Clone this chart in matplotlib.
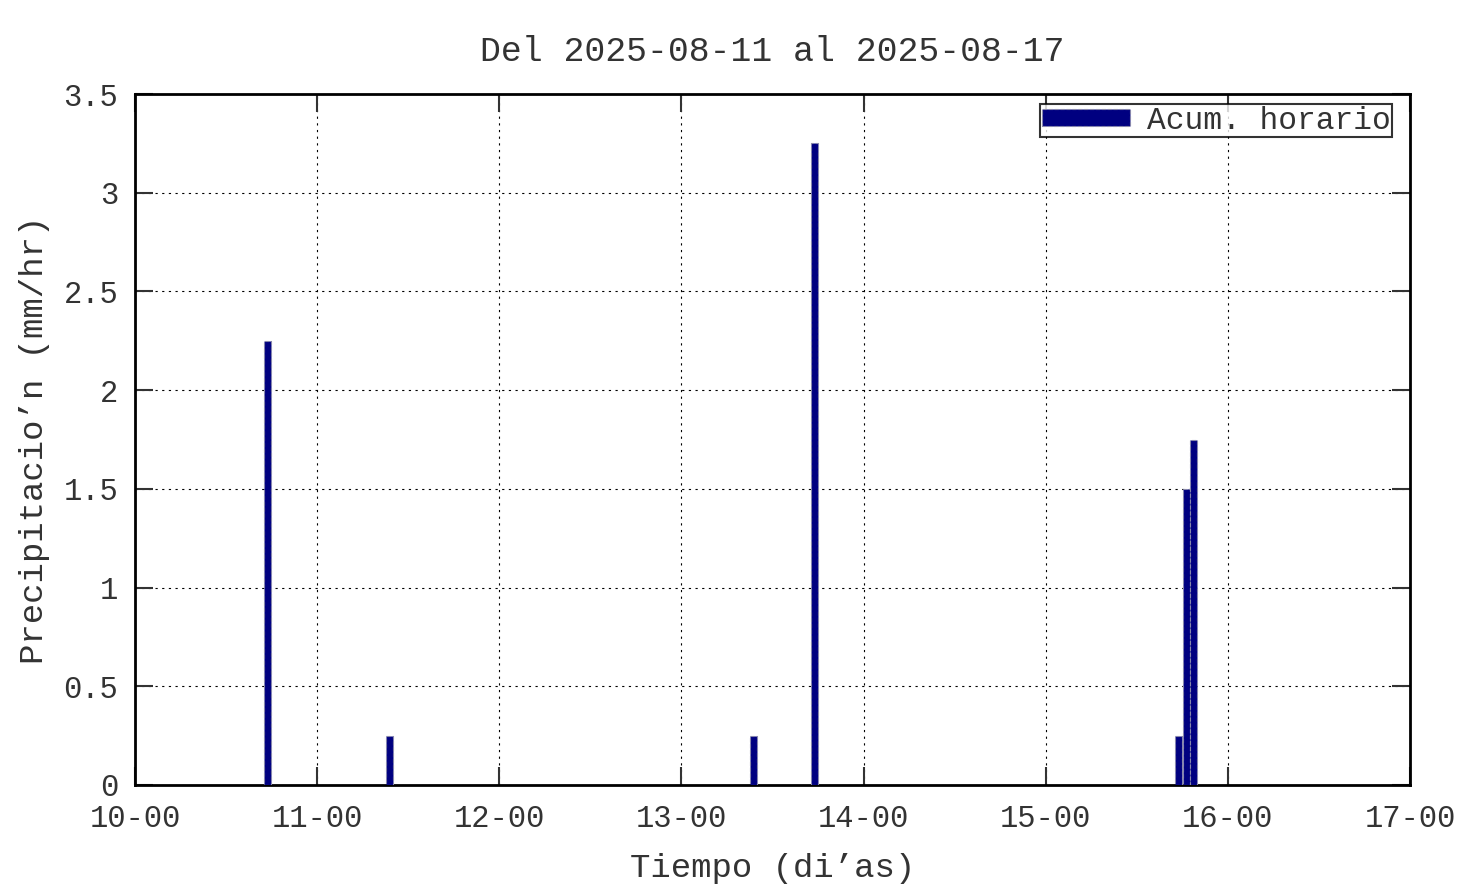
import matplotlib
matplotlib.use("Agg")
import matplotlib.pyplot as plt
import matplotlib.dates as mdates
import pandas as pd

# hourly accumulated precipitation (start of each hour)
horas = ["2025-08-10 17:00", "2025-08-11 09:00", "2025-08-13 09:00",
         "2025-08-13 17:00", "2025-08-15 17:00", "2025-08-15 18:00",
         "2025-08-15 19:00"]
precip = [2.25, 0.25, 0.25, 3.25, 0.25, 1.5, 1.75]
yticks = [0, 0.5, 1, 1.5, 2, 2.5, 3, 3.5]
ytick_labels = ["0", "0.5", "1", "1.5", "2", "2.5", "3", "3.5"]

plt.rcParams['font.family'] = ['Liberation Mono', 'DejaVu Sans Mono']

t = pd.to_datetime(horas) + pd.Timedelta(minutes=30)
x = mdates.date2num(t)

fig = plt.figure(figsize=(14.76, 8.85), dpi=100)
ax = fig.add_axes([135/1476, 1 - 785/885, 1275/1476, 691/885])

ax.bar(x, precip, width=0.9/24, color='#000080', edgecolor='#8888aa',
       linewidth=0.8, linestyle='--', label='Acum. horario', zorder=3)

ax.set_xlim(mdates.date2num(pd.Timestamp("2025-08-10")),
            mdates.date2num(pd.Timestamp("2025-08-17")))
ax.set_ylim(0, 3.5)
ax.xaxis.set_major_locator(mdates.DayLocator())
ax.xaxis.set_major_formatter(mdates.DateFormatter('%d-%H'))
ax.set_yticks(yticks)
ax.set_yticklabels(ytick_labels)

txt = '#333333'
ax.grid(True, color='black', linestyle=(0, (2, 4)), linewidth=0.8)
ax.tick_params(direction='in', length=13, width=1.5, top=True, right=True,
               labelsize=22, colors=txt)
ax.tick_params(axis='x', pad=14)
ax.tick_params(axis='y', pad=12)
for s in ax.spines.values():
    s.set_linewidth(2)

ax.set_title('Del 2025-08-11 al 2025-08-17', fontsize=25, pad=24, color=txt)
ax.set_xlabel('Tiempo (di\u2019as)', fontsize=24.5, labelpad=13, color=txt)
ax.set_ylabel('Precipitacio\u2019n (mm/hr)', fontsize=24.5, labelpad=10, color=txt)

leg = ax.legend(loc='upper right', fontsize=22.5, frameon=True, fancybox=False,
                handlelength=2.8, handleheight=0.5, handletextpad=0.55,
                borderpad=0.05, borderaxespad=0,
                bbox_to_anchor=((1392 - 135) / 1275, (785 - 104) / 691))
leg.get_frame().set_edgecolor('black')
leg.get_frame().set_linewidth(1.5)
for tx in leg.get_texts():
    tx.set_color(txt)

fig.savefig('out.png', dpi=100)
